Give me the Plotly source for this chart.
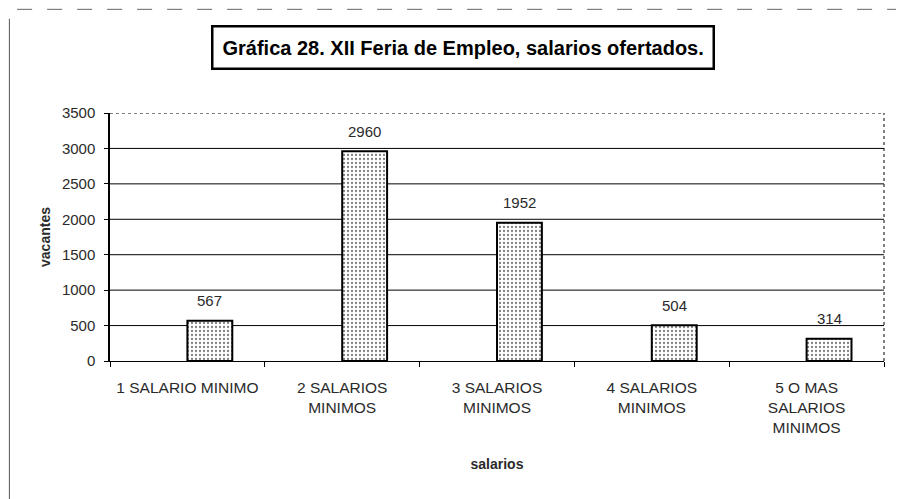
import plotly.graph_objects as go

# data
categorias = ["1 SALARIO MINIMO", "2 SALARIOS<br>MINIMOS", "3 SALARIOS<br>MINIMOS",
              "4 SALARIOS<br>MINIMOS", "5 O MAS<br>SALARIOS<br>MINIMOS"]
vacantes = [567, 2960, 1952, 504, 314]
y_ticks = [0, 500, 1000, 1500, 2000, 2500, 3000, 3500]

titulo = "Gráfica 28. XII Feria de Empleo, salarios ofertados."

BAR_W = 0.29
TXT = "#2a2a2a"
FONT = "Liberation Sans, Arial, sans-serif"

fig = go.Figure()
fig.add_trace(go.Bar(
    x=categorias, y=vacantes,
    width=BAR_W, offset=0,
    marker=dict(color="white",
                line=dict(color="black", width=2),
                pattern=dict(shape=".", fgcolor="black", bgcolor="white",
                             size=4, solidity=0.25)),
    showlegend=False,
))

# gridlines (top one dotted like the frame)
shapes = []
for v in y_ticks[1:-1]:
    shapes.append(dict(type="line", xref="paper", yref="y", x0=0, x1=1, y0=v, y1=v,
                       line=dict(color="black", width=1), layer="below"))
shapes.append(dict(type="line", xref="paper", yref="y", x0=0, x1=1,
                   y0=y_ticks[-1], y1=y_ticks[-1], line=dict(color="black", width=1, dash="dot")))
shapes.append(dict(type="line", xref="paper", yref="paper", x0=1, x1=1, y0=0, y1=1,
                   line=dict(color="black", width=1, dash="dot")))
# scan border lines
shapes.append(dict(type="line", xref="paper", yref="paper", x0=-0.130, x1=-0.130, y0=1.38, y1=-0.56,
                   line=dict(color="#555555", width=1)))
shapes.append(dict(type="line", xref="paper", yref="paper", x0=-0.12, x1=1.03, y0=1.418, y1=1.418,
                   line=dict(color="#666666", width=1, dash="longdash")))

annotations = []
for i, v in enumerate(vacantes):
    annotations.append(dict(x=i + BAR_W / 2, y=v, xref="x", yref="y", text=str(v),
                            showarrow=False, yshift=20,
                            font=dict(family=FONT, size=15, color=TXT)))
annotations.append(dict(x=0.456, y=1.266, xref="paper", yref="paper",
                        xanchor="center", yanchor="middle",
                        text="<b>" + titulo + "</b>", showarrow=False,
                        bgcolor="white", bordercolor="black", borderwidth=2.5, borderpad=9,
                        font=dict(family=FONT, size=20, color="black")))

fig.update_layout(
    width=896, height=491,
    margin=dict(l=102, r=20, t=105, b=138),
    paper_bgcolor="white", plot_bgcolor="white",
    font=dict(family=FONT, size=14, color=TXT),
    shapes=shapes, annotations=annotations,
    bargap=0.7,
)
fig.update_yaxes(range=[0, 3500], tickvals=y_ticks, showgrid=False, zeroline=False,
                 showline=True, linecolor="black", linewidth=1.5, automargin=False,
                 ticks="outside", ticklen=4, tickcolor="black", ticklabelstandoff=6,
                 tickfont=dict(family=FONT, size=15, color=TXT),
                 title=dict(text="<b>vacantes</b>", standoff=8,
                            font=dict(family=FONT, size=14, color=TXT)))
fig.update_xaxes(type="category", showgrid=False, showline=True, linecolor="black",
                 linewidth=1, ticks="outside", tickson="boundaries", ticklen=5,
                 tickcolor="black", tickangle=0, automargin=False, ticklabelstandoff=12,
                 tickfont=dict(family=FONT, size=15.5, color=TXT),
                 title=dict(text="<b>salarios</b>", standoff=24,
                            font=dict(family=FONT, size=14, color=TXT)))

fig.write_html("out.html")
